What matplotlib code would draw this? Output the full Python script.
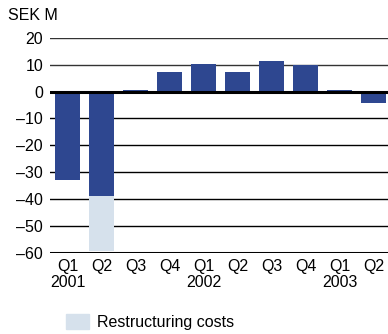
import matplotlib
matplotlib.use("Agg")
from matplotlib import pyplot as plt
from matplotlib.patches import Rectangle
import numpy as np

plt.rcParams['font.family'] = ['Liberation Sans', 'DejaVu Sans']

quarters = ['Q1', 'Q2', 'Q3', 'Q4', 'Q1', 'Q2', 'Q3', 'Q4', 'Q1', 'Q2']
years = ['2001', '', '', '', '2002', '', '', '', '2003', '']
result = [-32.7, -39.0, 0.7, 7.4, 10.4, 7.4, 11.5, 9.7, 0.7, -4.3]
restructuring = [0, -20.4, 0, 0, 0, 0, 0, 0, 0, 0]
yticks = [20, 10, 0, -10, -20, -30, -40, -50, -60]

dark = '#2E4790'
light = '#D6E1EC'
fs = 11.5

fig = plt.figure(figsize=(3.88, 3.34), dpi=100)
ax = fig.add_axes([50 / 388, 1 - 253 / 334, 338 / 388, (253 - 37.7) / 334])

x = np.arange(len(result))
ax.bar(x, result, width=0.735, color=dark, zorder=3)
ax.bar(x, restructuring, bottom=result, width=0.735, color=light, zorder=3)

ax.set_xlim(-0.515, 9.426)
ax.set_ylim(-60, 20)

for v in yticks:
    if v == 0 or v == -60:
        ax.axhline(v, color='black', lw=2.2, zorder=4 if v == 0 else 2)
    else:
        ax.axhline(v, color='#333333' if v > 0 else 'black', lw=1.0, zorder=1)

for s in ax.spines.values():
    s.set_visible(False)

ax.set_yticks(yticks)
ax.set_yticklabels([str(v).replace('-', '\u2013') for v in yticks], fontsize=fs)
ax.tick_params(axis='y', length=0, pad=5)
ax.set_xticks(x)
ax.set_xticklabels([q + '\n' + y for q, y in zip(quarters, years)],
                   fontsize=fs, linespacing=1.1)
ax.tick_params(axis='x', length=0, pad=4)

fig.text(8 / 388, 1 - 16 / 334, 'SEK M', fontsize=fs, va='center', ha='left')

fig.patches.append(Rectangle((66 / 388, 1 - 329 / 334), 23 / 388, 15 / 334,
                             transform=fig.transFigure, color=light, figure=fig))
fig.text(97 / 388, 1 - 322 / 334, 'Restructuring costs', fontsize=fs,
         va='center', ha='left')

fig.savefig('out.png', dpi=100)
